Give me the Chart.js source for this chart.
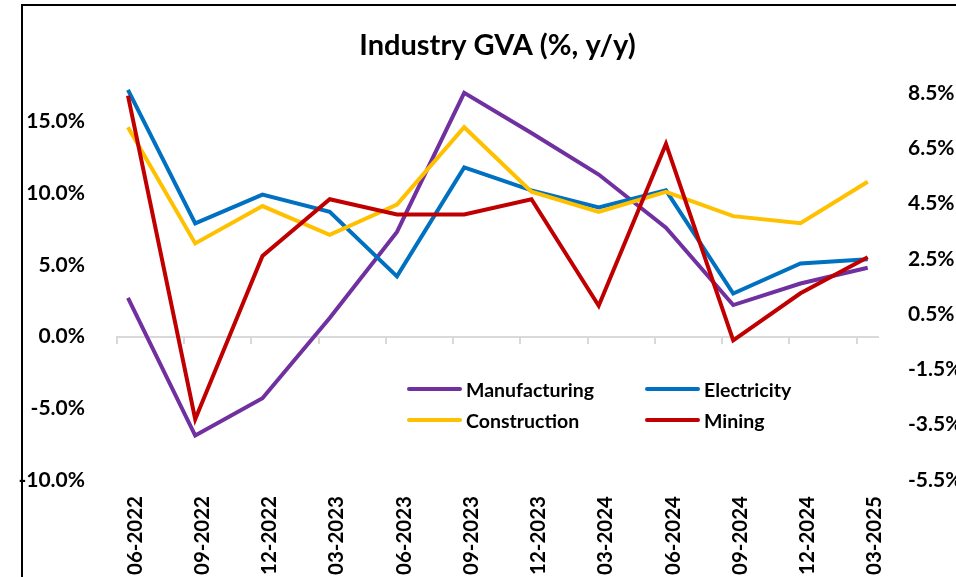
<!DOCTYPE html>
<html lang="en">
<head>
<meta charset="UTF-8" />
<title>Industry GVA (%, y/y)</title>
<style>
  html, body {
    margin: 0;
    padding: 0;
    width: 956px;
    height: 577px;
    overflow: hidden;
    background: #fff;
    font-family: 'Lato', sans-serif;
  }
  .frame {
    position: absolute;
    left: 21px;
    top: 4px;
    width: 1000px;
    height: 700px;
    border-left: 2px solid #000;
    border-top: 2px solid #000;
  }
  canvas {
    position: absolute;
    left: 0;
    top: 0;
  }
  .legend {
    position: absolute;
    left: 407px;
    top: 375px;
    display: grid;
    grid-template-columns: 238px 160px;
    row-gap: 3px;
    font-weight: 700;
    font-size: 19.5px;
    color: #000;
  }
  .legend-item {
    display: flex;
    align-items: center;
    height: 28px;
  }
  .legend-line {
    width: 55px;
    height: 4px;
    border-radius: 2px;
    margin-right: 4px;
  }
</style>
</head>
<body>
<div class="frame"></div>
<canvas id="gvaChart" width="956" height="577"></canvas>
<div class="legend" id="legend"></div>

<script src="https://cdn.jsdelivr.net/npm/chart.js@4.4.0/dist/chart.umd.min.js"></script>
<script>
  // quarter labels
  const categories = ['06-2022', '09-2022', '12-2022', '03-2023', '06-2023', '09-2023',
                      '12-2023', '03-2024', '06-2024', '09-2024', '12-2024', '03-2025'];

  // left axis series (%)
  const manufacturing = [2.7, -6.9, -4.3, 1.3, 7.3, 17.0, 14.2, 11.3, 7.6, 2.2, 3.7, 4.8];
  const electricity = [17.2, 7.9, 9.9, 8.7, 4.2, 11.8, 10.2, 9.0, 10.2, 3.0, 5.1, 5.4];
  const construction = [14.6, 6.5, 9.1, 7.1, 9.2, 14.6, 10.1, 8.7, 10.1, 8.4, 7.9, 10.8];
  // right axis series (%)
  const mining = [8.4, -3.3, 2.6, 4.65, 4.1, 4.1, 4.65, 0.8, 6.65, -0.45, 1.25, 2.55];

  const leftTicks = [-10, -5, 0, 5, 10, 15];
  const rightTicks = [-5.5, -3.5, -1.5, 0.5, 2.5, 4.5, 6.5, 8.5];

  const seriesNames = ['Manufacturing', 'Electricity', 'Construction', 'Mining'];
  const seriesColors = ['#7030A0', '#0070C0', '#FFC000', '#C00000'];

  (() => {
    Chart.defaults.font.family = 'Lato';
    Chart.defaults.font.weight = 'bold';
    Chart.defaults.color = '#000';

    const xMin = -0.163, xMax = 11.153;
    const pts = arr => arr.map((v, i) => ({ x: i, y: v }));

    const mkSet = (idx, arr, axis, order) => ({
      label: seriesNames[idx],
      data: pts(arr),
      borderColor: seriesColors[idx],
      backgroundColor: seriesColors[idx],
      borderWidth: 4,
      pointRadius: 0,
      tension: 0,
      yAxisID: axis,
      order: order,
      clip: false
    });

    const ctx = document.getElementById('gvaChart').getContext('2d');
    new Chart(ctx, {
      type: 'line',
      data: {
        datasets: [
          mkSet(0, manufacturing, 'y', 3),
          mkSet(1, electricity, 'y', 2),
          mkSet(2, construction, 'y', 1),
          mkSet(3, mining, 'y1', 0)
        ]
      },
      options: {
        responsive: false,
        animation: false,
        devicePixelRatio: 1,
        layout: { padding: { top: 0, left: 0, right: 0, bottom: 0 } },
        plugins: {
          legend: { display: false },
          tooltip: { enabled: false },
          title: {
            display: true,
            fullSize: false,
            text: 'Industry GVA (%, y/y)',
            color: '#000',
            font: { size: 29, weight: 'bold' },
            padding: { top: 28, bottom: 30 }
          }
        },
        scales: {
          x: {
            type: 'linear',
            position: 'bottom',
            min: xMin,
            max: xMax,
            grid: { display: false },
            border: { display: false },
            afterBuildTicks: s => { s.ticks = categories.map((c, i) => ({ value: i })); },
            afterFit: s => { s.height = 97; },
            ticks: {
              autoSkip: false,
              minRotation: 90,
              maxRotation: 90,
              padding: 8,
              labelOffset: 7,
              font: { size: 20.5, weight: 'bold' },
              callback: v => categories[v]
            }
          },
          x2: {
            type: 'linear',
            axis: 'x',
            position: { y: 0 },
            min: xMin,
            max: xMax,
            afterBuildTicks: s => { s.ticks = categories.map((c, i) => ({ value: xMin + i })); },
            ticks: { display: false },
            grid: {
              display: true,
              drawOnChartArea: false,
              drawTicks: true,
              tickLength: 6,
              color: '#d9d9d9',
              lineWidth: 2
            },
            border: { display: true, color: '#d9d9d9', width: 2 }
          },
          y: {
            type: 'linear',
            position: 'left',
            min: -10,
            max: 17,
            grid: { display: false },
            border: { display: false },
            afterBuildTicks: s => { s.ticks = leftTicks.map(v => ({ value: v })); },
            afterFit: s => { s.width = 117; },
            ticks: {
              padding: 24,
              font: { size: 21, weight: 'bold' },
              callback: v => v.toFixed(1) + '%'
            }
          },
          y1: {
            type: 'linear',
            position: 'right',
            min: -5.5,
            max: 8.5,
            grid: { display: false },
            border: { display: false },
            afterBuildTicks: s => { s.ticks = rightTicks.map(v => ({ value: v })); },
            afterFit: s => { s.width = 78; },
            ticks: {
              padding: 22,
              font: { size: 21, weight: 'bold' },
              callback: v => v.toFixed(1) + '%'
            }
          }
        }
      }
    });

    // legend inside the plot, two columns
    const legend = document.getElementById('legend');
    seriesNames.forEach((name, i) => {
      const item = document.createElement('div');
      item.className = 'legend-item';
      item.innerHTML = '<span class="legend-line" style="background:' + seriesColors[i] + '"></span>' + name;
      legend.appendChild(item);
    });
  })();
</script>
</body>
</html>
